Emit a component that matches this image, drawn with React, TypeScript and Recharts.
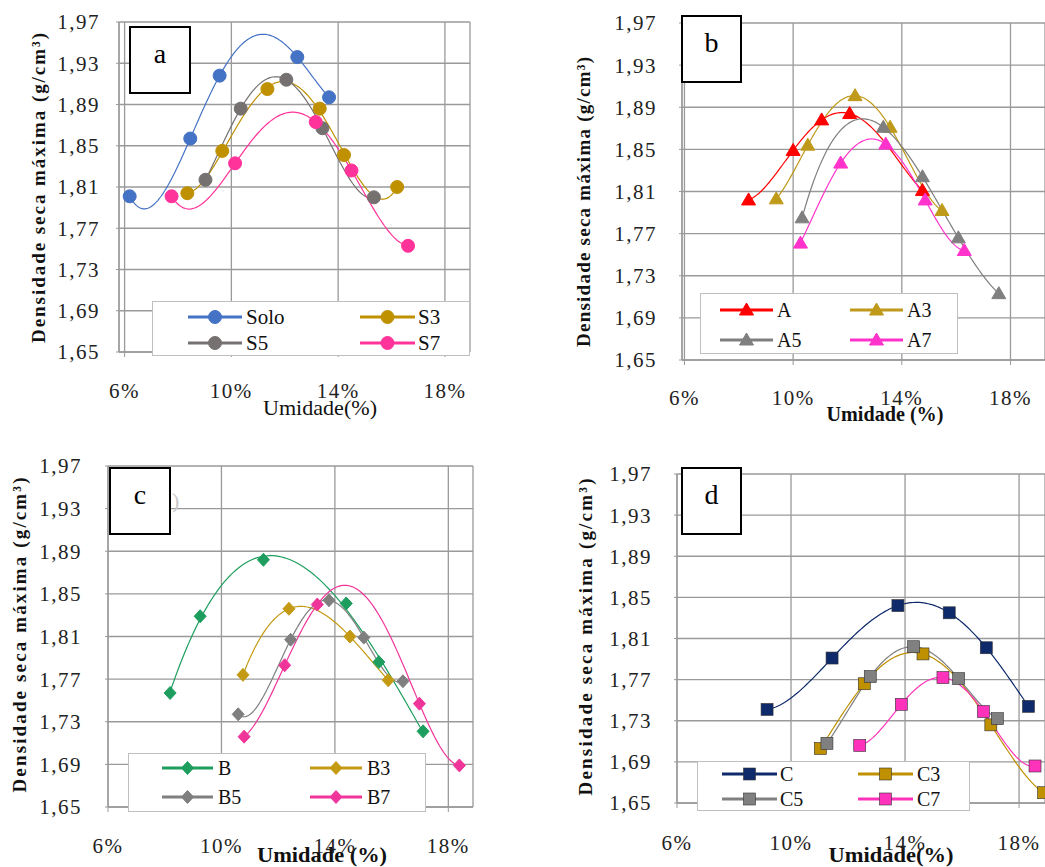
import React from "react";
import { LineChart, Line, XAxis, YAxis, CartesianGrid, Legend } from "recharts";

// ---------- eixos comuns ----------
const xTicks = [6, 10, 14, 18];
const yTicks = [1.65, 1.69, 1.73, 1.77, 1.81, 1.85, 1.89, 1.93, 1.97];

// ---------- (a) solo + S ----------
const soloX = [6.19, 8.46, 9.56, 12.47, 13.66];
const soloY = [1.801, 1.857, 1.918, 1.936, 1.897];
const s3X = [8.35, 9.66, 11.35, 13.31, 14.22, 16.21];
const s3Y = [1.804, 1.845, 1.905, 1.886, 1.841, 1.81];
const s5X = [9.03, 10.35, 12.06, 13.41, 15.34];
const s5Y = [1.817, 1.886, 1.914, 1.867, 1.8];
const s7X = [7.76, 10.14, 13.16, 14.5, 16.62];
const s7Y = [1.801, 1.833, 1.873, 1.826, 1.753];

// ---------- (b) A ----------
const aX = [8.36, 10.0, 11.05, 12.08, 14.76];
const aY = [1.802, 1.849, 1.878, 1.884, 1.811];
const a3X = [9.38, 10.54, 12.28, 13.57, 15.48];
const a3Y = [1.803, 1.854, 1.901, 1.871, 1.792];
const a5X = [10.33, 13.32, 14.76, 16.08, 17.57];
const a5Y = [1.785, 1.871, 1.824, 1.766, 1.713];
const a7X = [10.27, 11.75, 13.41, 14.86, 16.3];
const a7Y = [1.761, 1.837, 1.855, 1.802, 1.754];

// ---------- (c) B ----------
const bX = [8.19, 9.25, 11.48, 14.4, 15.55, 17.11];
const bY = [1.757, 1.829, 1.882, 1.841, 1.786, 1.721];
const b3X = [10.76, 12.38, 14.53, 15.88];
const b3Y = [1.774, 1.836, 1.81, 1.769];
const b5X = [10.59, 12.44, 13.79, 15.02, 16.4];
const b5Y = [1.737, 1.807, 1.844, 1.809, 1.768];
const b7X = [10.8, 12.23, 13.38, 16.98, 18.39];
const b7Y = [1.716, 1.783, 1.84, 1.747, 1.689];

// ---------- (d) C ----------
const cX = [9.16, 11.44, 13.75, 15.55, 16.85, 18.33];
const cY = [1.741, 1.791, 1.842, 1.835, 1.801, 1.744];
const c3X = [11.03, 12.57, 14.63, 17.01, 18.86];
const c3Y = [1.703, 1.766, 1.795, 1.726, 1.66];
const c5X = [11.26, 12.78, 14.3, 15.88, 17.24];
const c5Y = [1.708, 1.773, 1.802, 1.771, 1.732];
const c7X = [12.41, 13.87, 15.33, 16.75, 18.56];
const c7Y = [1.706, 1.746, 1.772, 1.739, 1.686];

const SERIF = '"Liberation Serif", "Times New Roman", serif';
const GRID = "#9a9a9a";

/* curva de tendencia polinomial (como a linha de tendencia do Excel) */
function polyCurve(context: any) {
  let pts: number[][] = [];
  return {
    areaStart() {},
    areaEnd() {},
    lineStart() {
      pts = [];
    },
    point(x: number, y: number) {
      pts.push([+x, +y]);
    },
    lineEnd() {
      const n = pts.length;
      if (n === 0) return;
      if (n < 3) {
        context.moveTo(pts[0][0], pts[0][1]);
        pts.slice(1).forEach((p) => context.lineTo(p[0], p[1]));
        return;
      }
      const deg = Math.min(n - 1, 4);
      const m = deg + 1;
      const x0 = pts[0][0];
      const x1 = pts[n - 1][0];
      const mid = (x0 + x1) / 2;
      const half = (x1 - x0) / 2 || 1;
      const A: number[][] = [];
      for (let i = 0; i < m; i++) A.push(new Array(m + 1).fill(0));
      pts.forEach(([x, y]) => {
        const u = (x - mid) / half;
        const pw = [1];
        for (let k = 1; k <= 2 * deg; k++) pw[k] = pw[k - 1] * u;
        for (let i = 0; i < m; i++) {
          for (let j = 0; j < m; j++) A[i][j] += pw[i + j];
          A[i][m] += pw[i] * y;
        }
      });
      for (let c = 0; c < m; c++) {
        let piv = c;
        for (let r = c + 1; r < m; r++) if (Math.abs(A[r][c]) > Math.abs(A[piv][c])) piv = r;
        [A[c], A[piv]] = [A[piv], A[c]];
        for (let r = 0; r < m; r++) {
          if (r === c) continue;
          const f = A[r][c] / A[c][c];
          for (let k = c; k <= m; k++) A[r][k] -= f * A[c][k];
        }
      }
      const coef = A.map((row, i) => row[m] / row[i]);
      const f = (x: number) => {
        const u = (x - mid) / half;
        let s = 0;
        for (let k = m - 1; k >= 0; k--) s = s * u + coef[k];
        return s;
      };
      const steps = 120;
      for (let s = 0; s <= steps; s++) {
        const x = x0 + ((x1 - x0) * s) / steps;
        if (s === 0) context.moveTo(x, f(x));
        else context.lineTo(x, f(x));
      }
    },
  };
}

type Shape = "circle" | "triangle" | "diamond" | "square";

const Marker = ({ shape, cx, cy, color }: { shape: Shape; cx: number; cy: number; color: string }) => {
  if (shape === "circle") return <circle cx={cx} cy={cy} r={6.5} fill={color} stroke={color} />;
  if (shape === "triangle")
    return (
      <polygon
        points={`${cx},${cy - 7} ${cx - 7},${cy + 5} ${cx + 7},${cy + 5}`}
        fill={color}
        stroke={color}
      />
    );
  if (shape === "diamond")
    return (
      <polygon
        points={`${cx},${cy - 6.5} ${cx + 6},${cy} ${cx},${cy + 6.5} ${cx - 6},${cy}`}
        fill={color}
        stroke={color}
      />
    );
  return <rect x={cx - 6} y={cy - 6} width={12} height={12} fill={color} stroke="#333" strokeWidth={0.6} />;
};

interface Serie {
  name: string;
  xs: number[];
  ys: number[];
  color: string;
}

interface Panel {
  letter: string;
  left: number;
  top: number;
  width: number;
  height: number;
  margin: { top: number; right: number; bottom: number; left: number };
  xDomain: [number, number];
  yTickMargin: number;
  xTickMargin: number;
  shape: Shape;
  series: Serie[];
  yTitle: { x: number; y: number; len: number };
  xTitle: { x: number; y: number; text: string; bold: boolean; len: number };
  legend: { x: number; y: number; w: number; h: number; cols: number[][]; rows: number[]; fs: number };
  box: { x: number; y: number; w: number; h: number };
}

const panels: Panel[] = [
  {
    letter: "a",
    left: 0,
    top: 0,
    width: 520,
    height: 440,
    margin: { top: 22, right: 50, bottom: 38, left: 59 },
    xDomain: [5.79, 18.94],
    yTickMargin: 16,
    xTickMargin: 26,
    shape: "circle",
    series: [
      { name: "Solo", xs: soloX, ys: soloY, color: "#4472C4" },
      { name: "S3", xs: s3X, ys: s3Y, color: "#BF9000" },
      { name: "S5", xs: s5X, ys: s5Y, color: "#767171" },
      { name: "S7", xs: s7X, ys: s7Y, color: "#FF3399" },
    ],
    yTitle: { x: 45, y: 188, len: 310 },
    xTitle: { x: 320, y: 415, text: "Umidade(%)", bold: false, len: 114 },
    legend: { x: 152, y: 301, w: 318, h: 55, cols: [[36, 90, 94], [208, 263, 266]], rows: [16, 42], fs: 21 },
    box: { x: 129, y: 26, w: 62, h: 68 },
  },
  {
    letter: "b",
    left: 520,
    top: 0,
    width: 525,
    height: 440,
    margin: { top: 23, right: 0, bottom: 30, left: 102 },
    xDomain: [5.91, 19.27],
    yTickMargin: 22,
    xTickMargin: 25,
    shape: "triangle",
    series: [
      { name: "A", xs: aX, ys: aY, color: "#FF0000" },
      { name: "A3", xs: a3X, ys: a3Y, color: "#BF9A1A" },
      { name: "A5", xs: a5X, ys: a5Y, color: "#7F7F7F" },
      { name: "A7", xs: a7X, ys: a7Y, color: "#FF33CC" },
    ],
    yTitle: { x: 70, y: 202, len: 290 },
    xTitle: { x: 365, y: 421, text: "Umidade (%)", bold: true, len: 117 },
    legend: { x: 180, y: 293, w: 258, h: 61, cols: [[20, 73, 77], [150, 203, 207]], rows: [17, 47], fs: 20 },
    box: { x: 681, y: 15, w: 61, h: 68 },
  },
  {
    letter: "c",
    left: 0,
    top: 440,
    width: 520,
    height: 427,
    margin: { top: 26, right: 47, bottom: 10, left: 48 },
    xDomain: [6.0, 18.87],
    yTickMargin: 23,
    xTickMargin: 26,
    shape: "diamond",
    series: [
      { name: "B", xs: bX, ys: bY, color: "#1E9E5E" },
      { name: "B3", xs: b3X, ys: b3Y, color: "#C49A14" },
      { name: "B5", xs: b5X, ys: b5Y, color: "#7F7F7F" },
      { name: "B7", xs: b7X, ys: b7Y, color: "#F0359A" },
    ],
    yTitle: { x: 26, y: 195, len: 315 },
    xTitle: { x: 322, y: 422, text: "Umidade (%)", bold: true, len: 130 },
    legend: { x: 128, y: 313, w: 298, h: 59, cols: [[34, 85, 90], [182, 234, 239]], rows: [15, 44], fs: 20 },
    box: { x: 109, y: 467, w: 62, h: 68 },
  },
  {
    letter: "d",
    left: 520,
    top: 440,
    width: 525,
    height: 427,
    margin: { top: 34, right: 0, bottom: 14, left: 97 },
    xDomain: [6.0, 18.91],
    yTickMargin: 22,
    xTickMargin: 27,
    shape: "square",
    series: [
      { name: "C", xs: cX, ys: cY, color: "#0E2A6B" },
      { name: "C3", xs: c3X, ys: c3Y, color: "#BF9000" },
      { name: "C5", xs: c5X, ys: c5Y, color: "#808080" },
      { name: "C7", xs: c7X, ys: c7Y, color: "#FF33BB" },
    ],
    yTitle: { x: 72, y: 197, len: 317 },
    xTitle: { x: 371, y: 422, text: "Umidade(%)", bold: true, len: 125 },
    legend: { x: 177, y: 321, w: 273, h: 50, cols: [[25, 80, 83], [161, 216, 220]], rows: [13, 38], fs: 20 },
    box: { x: 681, y: 467, w: 61, h: 68 },
  },
];

const YTitle = ({ px, py, len }: { px: number; py: number; len: number }) => (
  <text
    x={px}
    y={py}
    textAnchor="middle"
    transform={`rotate(-90 ${px} ${py})`}
    fontFamily={SERIF}
    fontWeight="bold"
    fontSize={19}
    fill="#111"
    textLength={len}
    lengthAdjust="spacing"
  >
    Densidade seca máxima (g/cm³)
  </text>
);

const XTitle = ({ px, py, text, bold, len }: { px: number; py: number; text: string; bold: boolean; len: number }) => (
  <text
    x={px}
    y={py}
    textAnchor="middle"
    fontFamily={SERIF}
    fontWeight={bold ? "bold" : "normal"}
    fontSize={21}
    fill="#111"
    textLength={len}
    lengthAdjust="spacingAndGlyphs"
  >
    {text}
  </text>
);

const LegendBox = ({ p }: { p: Panel }) => {
  const { w, h, cols, rows, fs } = p.legend;
  return (
    <svg width={w} height={h} style={{ display: "block" }}>
      <rect x={0.5} y={0.5} width={w - 1} height={h - 1} fill="#fff" stroke="#bfbfbf" />
      {p.series.map((s, i) => {
        const [l0, l1, tx] = cols[i % 2];
        const ry = rows[Math.floor(i / 2)];
        return (
          <g key={s.name}>
            <line x1={l0} x2={l1} y1={ry} y2={ry} stroke={s.color} strokeWidth={3} />
            <Marker shape={p.shape} cx={(l0 + l1) / 2} cy={ry} color={s.color} />
            <text x={tx} y={ry + fs * 0.33} fontFamily={SERIF} fontSize={fs} fill="#111">
              {s.name}
            </text>
          </g>
        );
      })}
    </svg>
  );
};

const fmtY = (v: number) => v.toFixed(2).replace(".", ",");

const PanelChart = ({ p }: { p: Panel }) => (
  <div style={{ position: "absolute", left: p.left, top: p.top }}>
    <LineChart width={p.width} height={p.height} margin={p.margin}>
      <CartesianGrid stroke={GRID} strokeWidth={1.3} />
      <XAxis
        type="number"
        dataKey="x"
        domain={p.xDomain}
        ticks={xTicks}
        allowDataOverflow
        height={50}
        tickFormatter={(v: number) => `${v}%`}
        tick={{ fontFamily: SERIF, fontSize: 21, fill: "#222", letterSpacing: 1.5 }}
        tickSize={5}
        tickMargin={p.xTickMargin}
        axisLine={{ stroke: GRID, strokeWidth: 1.3 }}
        tickLine={{ stroke: GRID }}
        label={<XTitle px={p.xTitle.x} py={p.xTitle.y} text={p.xTitle.text} bold={p.xTitle.bold} len={p.xTitle.len} />}
      />
      <YAxis
        type="number"
        dataKey="y"
        domain={[1.65, 1.97]}
        ticks={yTicks}
        allowDataOverflow
        width={60}
        tickFormatter={fmtY}
        tick={{ fontFamily: SERIF, fontSize: 21, fill: "#222", letterSpacing: 1.5 }}
        tickSize={3}
        tickMargin={p.yTickMargin}
        axisLine={{ stroke: GRID, strokeWidth: 1.3 }}
        tickLine={{ stroke: GRID }}
        label={<YTitle px={p.yTitle.x} py={p.yTitle.y} len={p.yTitle.len} />}
      />
      {p.series.map((s) => (
        <Line
          key={s.name}
          name={s.name}
          data={s.xs.map((x, i) => ({ x, y: s.ys[i] }))}
          dataKey="y"
          type={polyCurve as any}
          stroke={s.color}
          strokeWidth={1.2}
          isAnimationActive={false}
          dot={(d: any) => (
            <Marker key={`${s.name}-${d.index}`} shape={p.shape} cx={d.cx} cy={d.cy} color={s.color} />
          )}
          activeDot={false}
        />
      ))}
      <Legend
        layout="horizontal"
        verticalAlign="middle"
        align="center"
        wrapperStyle={{
          position: "absolute",
          left: p.legend.x,
          top: p.legend.y,
          width: p.legend.w,
          height: p.legend.h,
        }}
        content={() => <LegendBox p={p} />}
      />
    </LineChart>
  </div>
);

const App: React.FC = () => (
  <div
    style={{
      position: "absolute",
      left: 0,
      top: 0,
      width: 1045,
      height: 867,
      background: "#fff",
      overflow: "hidden",
    }}
  >
    {panels.map((p) => (
      <PanelChart key={p.letter} p={p} />
    ))}
    {panels.map((p) => (
      <div
        key={`box-${p.letter}`}
        style={{
          position: "absolute",
          left: p.box.x,
          top: p.box.y,
          width: p.box.w - 4,
          height: p.box.h - 4,
          border: "2px solid #000",
          background: "#fff",
          fontFamily: SERIF,
          fontSize: 28,
          lineHeight: "28px",
          textAlign: "center",
          paddingTop: 0,
        }}
      >
        <div style={{ marginTop: 12 }}>{p.letter}</div>
      </div>
    ))}
    <div
      style={{ position: "absolute", left: 172, top: 488, fontFamily: SERIF, fontSize: 22, color: "#c8c8c8" }}
    >
      )
    </div>
  </div>
);

export default App;
